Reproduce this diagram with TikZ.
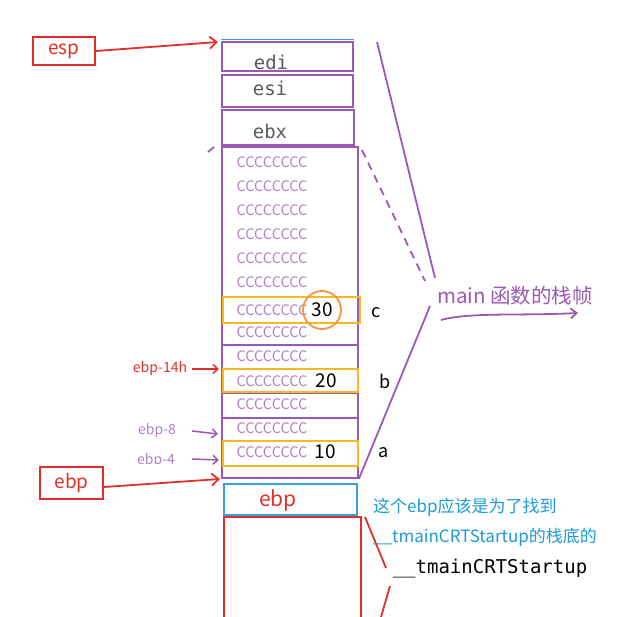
\documentclass[tikz,border=0pt]{standalone}
\usepackage{fontspec}
\newfontfamily\cjk{Noto Sans CJK SC}
\newfontfamily\mono{DejaVu Sans Mono}
\usetikzlibrary{arrows.meta}
\definecolor{stackpurple}{RGB}{155,89,182}
\definecolor{ccpurple}{RGB}{178,128,204}
\definecolor{markred}{RGB}{226,48,40}
\definecolor{hlorange}{RGB}{248,184,36}
\definecolor{ringorange}{RGB}{240,150,60}
\definecolor{boxblue}{RGB}{60,160,224}
\definecolor{noteblue}{RGB}{30,154,214}
\definecolor{regray}{RGB}{90,90,90}
\tikzset{
	slot/.style={draw=stackpurple, line width=1.8pt, inner sep=0pt},
	regtext/.style={font=\mono\fontsize{19}{21}\selectfont, text=regray, inner sep=0pt},
	cc/.style={font=\cjk\fontsize{14.5}{16}\selectfont, text=ccpurple, inner sep=0pt},
	hl/.style={draw=hlorange, line width=2.5pt, inner sep=0pt},
	val/.style={font=\cjk\fontsize{19}{21}\selectfont, inner sep=0pt},
	tag/.style={font=\cjk\fontsize{18}{20}\selectfont, inner sep=0pt},
	offset/.style={font=\cjk\fontsize{14}{16}\selectfont, inner sep=0pt},
	note/.style={anchor=west, font=\cjk\fontsize{17}{19}\selectfont, text=noteblue, inner sep=0pt},
	regbox/.style={draw=markred, line width=1.8pt, text=markred, inner sep=0pt, font=\cjk\fontsize{19}{21}\selectfont},
	redarrow/.style={draw=markred, line width=1.8pt, -{Straight Barb[length=7pt,width=12pt]}},
	purparrow/.style={draw=stackpurple, line width=1.8pt, -{Straight Barb[length=6pt,width=10pt]}}
}
\begin{document}
\begin{tikzpicture}[x=1pt,y=-1pt]
	\useasboundingbox (0,0) rectangle (623,617);
	% saved registers
	\node[slot, minimum width=131pt, minimum height=29pt] (edi) at (287.5,56.5) {};
	\node[slot, minimum width=131pt, minimum height=32pt] (esi) at (287.5,91) {};
	\node[slot, minimum width=132pt, minimum height=35pt] (ebx) at (288,127.5) {};
	\node[regtext] (editxt) at (271,62) {edi};
	\node[regtext] (esitxt) at (270,88) {esi};
	\node[regtext] (ebxtxt) at (270,131) {ebx};
	\draw[boxblue, line width=1.8pt] ([yshift=1.5pt]edi.north west) -- ([yshift=1.5pt]edi.north east);
	% locals of main
	\node[slot, minimum width=136pt, minimum height=331pt] (frame) at (290,312.5) {};
	\foreach \y in {345,393,418}
		\draw[stackpurple, line width=1.8pt] (frame.west |- 0,\y) -- (frame.east |- 0,\y);
	\foreach \y in {162,186,210,234,258,282,310,332,356,381,404,428,452}
		\node[cc] at (272,\y) {CCCCCCCC};
	\node[hl, minimum width=137pt, minimum height=26pt] (varc) at (291.5,310) {};
	\node[hl, minimum width=135pt, minimum height=23pt] (varb) at (290.5,380.5) {};
	\node[hl, minimum width=135pt, minimum height=25pt] (vara) at (290.5,453.5) {};
	\node[val] (valc) at (322,310) {30};
	\node[draw=ringorange, line width=1.8pt, circle, minimum size=38pt] (ring) at (valc) {};
	\node[val] (valb) at (326,381) {20};
	\node[val] (vala) at (325,452) {10};
	\node[tag] (namec) at (376,313) {c};
	\node[tag] (nameb) at (385,381) {b};
	\node[tag] (namea) at (384,453) {a};
	% saved ebp and caller
	\node[draw=boxblue, line width=1.8pt, minimum width=133pt, minimum height=31pt, inner sep=0pt] (oldebp) at (290.5,499.5) {};
	\node[text=markred, font=\cjk\fontsize{21}{23}\selectfont, inner sep=0pt] (oldebptxt) at (278,501) {ebp};
	\node[draw=markred, line width=1.8pt, minimum width=137pt, minimum height=126pt, inner sep=0pt] (caller) at (292.5,580) {};
	% pointers
	\node[regbox, minimum width=62pt, minimum height=28pt] (esp) at (64,51) {esp};
	\node[regbox, minimum width=63pt, minimum height=32pt] (ebp) at (71.5,483) {ebp};
	\coordinate (esptip) at (218,42);
	\coordinate (ebptip) at (220,479);
	\draw[redarrow] (esp.east) -- (esptip);
	\draw[redarrow] ([yshift=-4pt]ebp.east) -- (ebptip);
	\node[offset, text=markred] (off14) at (160,369) {ebp-14h};
	\node[offset, text=ccpurple] (off8) at (157,431) {ebp-8};
	\begin{scope}
		\clip (120,440) rectangle (200,463);
		\node[offset, text=ccpurple] (off4) at (156,461) {ebp-4};
	\end{scope}
	\coordinate (tip14) at (219,369);
	\coordinate (tip8) at (218,434);
	\coordinate (tip4) at (219,460);
	\draw[draw=markred, line width=1.5pt, -{Straight Barb[length=5pt,width=9pt]}] (off14.east) ++(5,0) -- (tip14);
	\draw[draw=stackpurple, line width=1.5pt, -{Straight Barb[length=5pt,width=9pt]}] (off8.east) ++(16,0) -- (tip8);
	\draw[draw=stackpurple, line width=1.5pt, -{Straight Barb[length=5pt,width=9pt]}] (off4.east) ++(17,-2) -- (tip4);
	% frame brace
	\node[font=\cjk\fontsize{20.5}{22}\selectfont, text=stackpurple, inner sep=0pt] (mainlbl) at (515,296) {main 函数的栈帧};
	\coordinate (braceup) at (435,278);
	\coordinate (bracemid) at (425,281);
	\coordinate (bracelow) at (430,306);
	\draw[stackpurple, line width=1.8pt] (377,42) -- (braceup);
	\draw[stackpurple, line width=1.8pt, dash pattern=on 8pt off 6pt] (362,150) -- (bracemid);
	\draw[stackpurple, line width=1.8pt] (bracelow) -- (frame.south east);
	\draw[stackpurple, line width=1.8pt] (208,152) -- (214,147);
	\coordinate (mainend) at (578,313);
	\draw[purparrow] (441,320) .. controls (470,312) and (520,316) .. (mainend);
	% caller frame
	\draw[markred, line width=1.8pt] (365,517) -- (386,568);
	\draw[markred, line width=1.8pt] (390,586) -- (381,617);
	\node[font=\mono\fontsize{19}{21}\selectfont, inner sep=0pt] (crt) at (490,569) {\_\_tmainCRTStartup};
	\node[note] (note1) at (373,507) {这个ebp应该是为了找到};
	\node[note] (note2) at (373,537) {\_\_tmainCRTStartup的栈底的};
\end{tikzpicture}
\end{document}
